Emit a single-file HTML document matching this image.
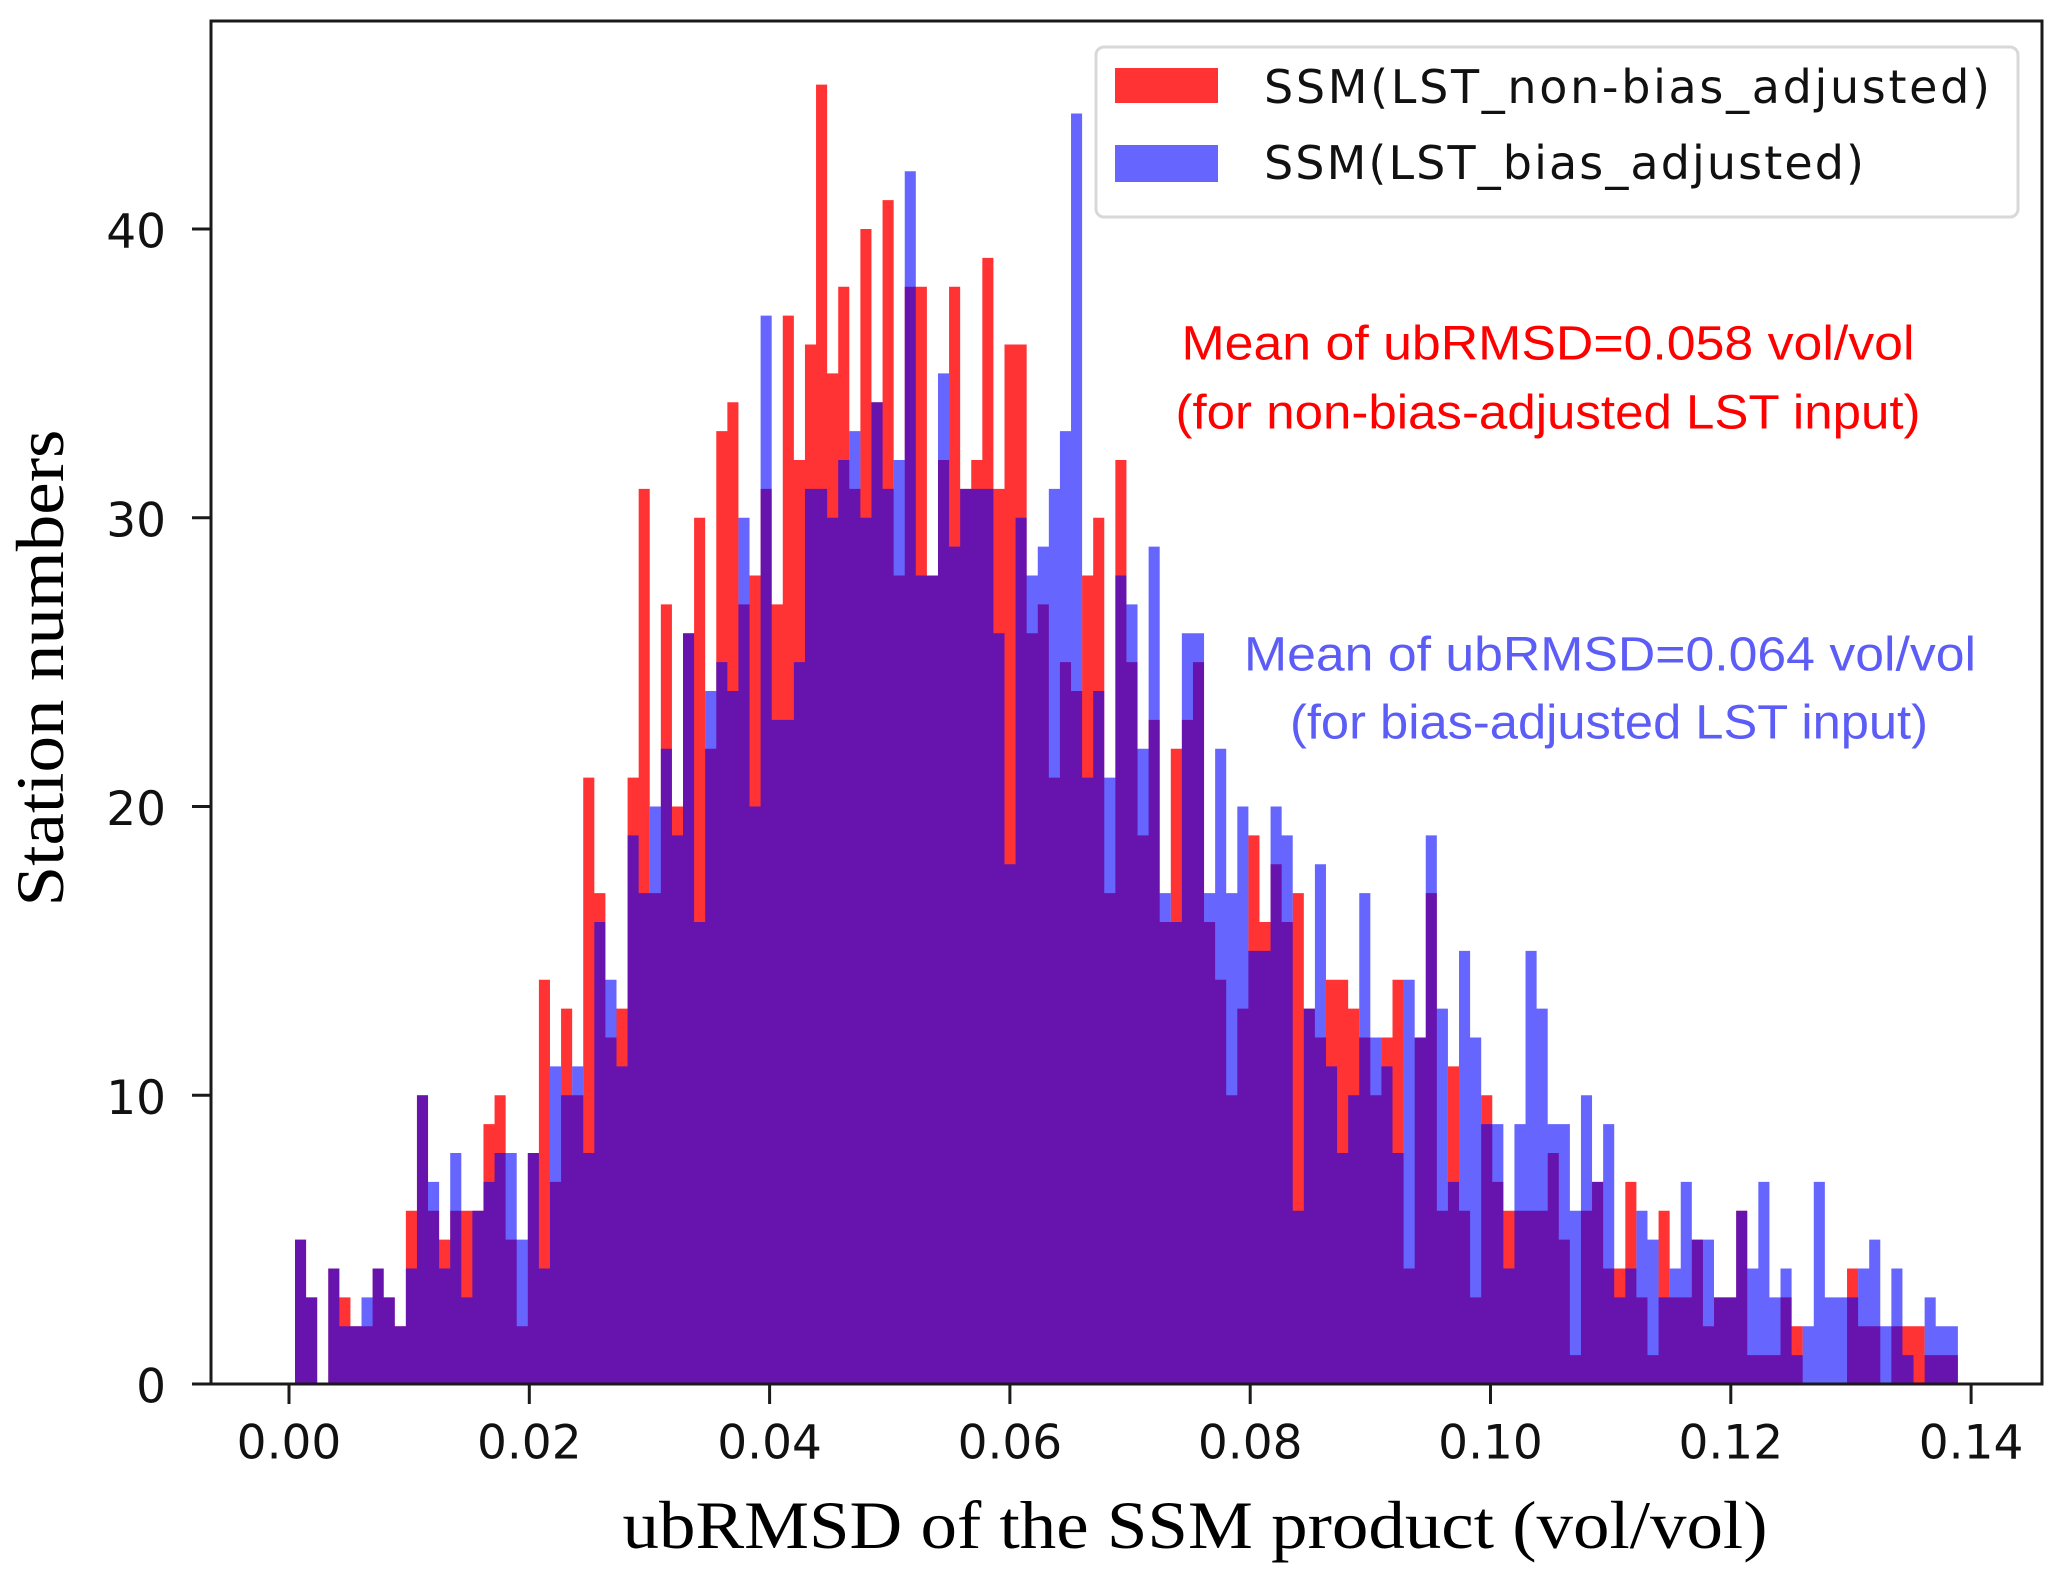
<!DOCTYPE html>
<html><head><meta charset="utf-8">
<style>html,body{margin:0;padding:0;background:#fff;}svg{display:block;}</style>
</head><body>
<svg id="chart" width="2067" height="1575" viewBox="0 0 2067 1575" xmlns="http://www.w3.org/2000/svg">
<rect x="0" y="0" width="2067" height="1575" fill="#fff"/>
<g id="bars-red"></g>
<g id="bars-blue"></g>
<g id="axes"></g>
<g>
  <rect x="1096" y="47" width="922" height="170" rx="8" fill="#fff" fill-opacity="0.85" stroke="#d8d8d8" stroke-width="3"/>
  <rect x="1115" y="68" width="103" height="35" fill="#ff0000" fill-opacity="0.8"/>
  <text x="1264" y="87" dominant-baseline="central" font-family="DejaVu Sans, sans-serif" font-size="46" fill="#111" textLength="726">SSM(LST_non-bias_adjusted)</text>
  <rect x="1115" y="145" width="103" height="37" fill="#0000ff" fill-opacity="0.6"/>
  <text x="1264" y="163" dominant-baseline="central" font-family="DejaVu Sans, sans-serif" font-size="46" fill="#111" textLength="600">SSM(LST_bias_adjusted)</text>
</g>
<g font-family="Liberation Sans, sans-serif" font-size="48" fill="#ff0000" text-anchor="middle">
  <text x="1548" y="344" dominant-baseline="central" textLength="733" lengthAdjust="spacingAndGlyphs">Mean of ubRMSD=0.058 vol/vol</text>
  <text x="1548" y="413" dominant-baseline="central" textLength="745" lengthAdjust="spacingAndGlyphs">(for non-bias-adjusted LST input)</text>
</g>
<g font-family="Liberation Sans, sans-serif" font-size="48" fill="#5c5cf6" text-anchor="middle">
  <text x="1610" y="655" dominant-baseline="central" textLength="732" lengthAdjust="spacingAndGlyphs">Mean of ubRMSD=0.064 vol/vol</text>
  <text x="1609" y="723" dominant-baseline="central" textLength="638" lengthAdjust="spacingAndGlyphs">(for bias-adjusted LST input)</text>
</g>
<text transform="translate(40,668) rotate(-90)" text-anchor="middle" dominant-baseline="central" font-family="Liberation Serif, serif" font-size="68" fill="#000" textLength="477" lengthAdjust="spacingAndGlyphs">Station numbers</text>
<text x="1195" y="1525" text-anchor="middle" dominant-baseline="central" font-family="Liberation Serif, serif" font-size="68" fill="#000" textLength="1145" lengthAdjust="spacingAndGlyphs">ubRMSD of the SSM product (vol/vol)</text>
</svg>
<script>
const redCounts = [5,3,0,4,3,2,2,4,3,2, 6,10,6,5,6,6,6,9,10,5, 2,8,14,7,13,10,21,17,12,13, 21,31,17,27,20,26,30,22,33,34, 27,28,31,27,37,32,36,45,35,38, 31,40,34,41,28,38,38,28,32,38, 31,32,39,31,36,36,26,27,21,25, 24,28,30,17,32,25,19,23,16,22, 23,25,16,14,10,13,19,16,18,16, 17,13,12,14,14,13,12,10,12,14, 4,12,17,6,11,6,3,10,7,6, 6,6,6,8,5,1,6,7,4,4, 7,3,1,6,3,3,5,2,3,3, 6,1,1,1,3,2,0,0,0,0, 4,2,2,0,2,2,2,1,1,1];
const blueCounts = [5,3,0,4,2,2,3,4,3,2, 4,10,7,4,8,3,6,7,8,8, 5,8,4,11,10,11,8,16,14,11, 19,17,20,22,19,26,16,24,25,24, 30,20,37,23,23,25,31,31,30,32, 33,30,34,31,32,42,28,28,35,29, 31,31,31,26,18,30,28,29,31,33, 44,21,24,21,28,27,22,29,17,16, 26,26,17,22,17,20,15,15,20,19, 6,13,18,11,8,10,17,12,11,8, 14,12,19,13,7,15,12,9,9,4, 9,15,13,9,9,6,10,7,9,3, 4,6,5,3,4,7,5,5,3,3, 6,4,7,3,4,1,2,7,3,3, 3,4,5,2,4,1,0,3,2,2];
const binRange = [0.0005, 0.1389];
const xTicks = [0.00, 0.02, 0.04, 0.06, 0.08, 0.10, 0.12, 0.14];
const xTickLabels = ["0.00","0.02","0.04","0.06","0.08","0.10","0.12","0.14"];
const yTicks = [0, 10, 20, 30, 40];
const yTickLabels = ["0","10","20","30","40"];

const NS = "http://www.w3.org/2000/svg";
const X0 = 289, XPER = 240.3/0.02;
const Y0 = 1384, YPER = (1384-229)/40;
function xs(v){ return X0 + v*XPER; }
function ys(v){ return Y0 - v*YPER; }
function mk(tag, attrs, parent){
  const e = document.createElementNS(NS, tag);
  for (const k in attrs) e.setAttribute(k, attrs[k]);
  parent.appendChild(e);
  return e;
}
const nb = redCounts.length;
const bw = (binRange[1]-binRange[0])/nb;
function drawSeries(counts, g, color, op, nm){
  let d = 'M' + xs(binRange[0]).toFixed(2) + ' ' + ys(0).toFixed(2);
  for (let i=0;i<counts.length;i++){
    const xa = xs(binRange[0]+i*bw), xb = xs(binRange[0]+(i+1)*bw);
    d += ' L' + xa.toFixed(2) + ' ' + ys(counts[i]).toFixed(2) + ' L' + xb.toFixed(2) + ' ' + ys(counts[i]).toFixed(2);
  }
  d += ' L' + xs(binRange[1]).toFixed(2) + ' ' + ys(0).toFixed(2) + ' Z';
  const p = mk('path', {d:d, fill:color, 'fill-opacity':op, stroke:'none'}, g);
  
  
}
drawSeries(redCounts, document.getElementById('bars-red'), '#ff0000', 0.8, 'red');
drawSeries(blueCounts, document.getElementById('bars-blue'), '#0000ff', 0.6, 'blue');

const ax = document.getElementById('axes');
const frame = mk('rect', {x:211, y:21, width:2042-211, height:Y0-21, fill:'none', stroke:'#1a1a1a', 'stroke-width':3}, ax);


xTicks.forEach((t,i)=>{
  const x = xs(t);
  const l = mk('line', {x1:x, y1:Y0, x2:x, y2:Y0+20, stroke:'#1a1a1a', 'stroke-width':3}, ax);
  
  
  const tx = mk('text', {x:x, y:1443, 'text-anchor':'middle', 'dominant-baseline':'central', 'font-family':'DejaVu Sans, sans-serif', 'font-size':47, fill:'#111'}, ax);
  tx.textContent = xTickLabels[i];
  
  
});
yTicks.forEach((t,i)=>{
  const y = ys(t);
  const l = mk('line', {x1:192, y1:y, x2:211, y2:y, stroke:'#1a1a1a', 'stroke-width':3}, ax);
  
  
  const tx = mk('text', {x:166, y:y+3, 'text-anchor':'end', 'dominant-baseline':'central', 'font-family':'DejaVu Sans, sans-serif', 'font-size':47, fill:'#111'}, ax);
  tx.textContent = yTickLabels[i];
  
  
});
</script>
</body></html>
